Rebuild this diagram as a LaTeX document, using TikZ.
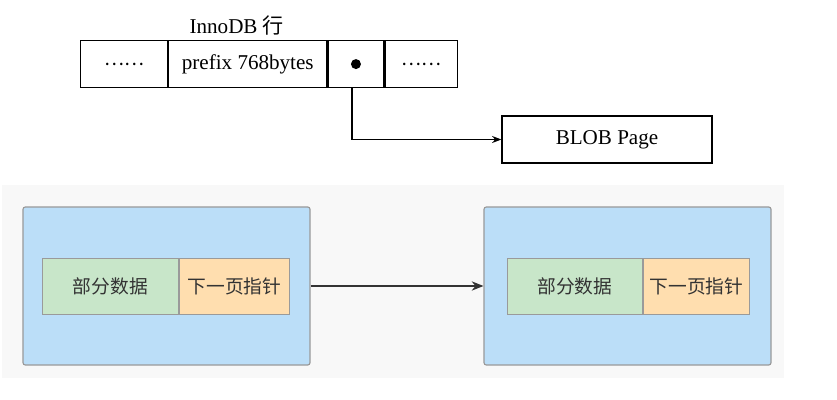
\documentclass[tikz,border=0pt]{standalone}
\usepackage{fontspec}
\setmainfont{Liberation Serif}
\newfontfamily\cjk{Noto Sans CJK SC}
\usetikzlibrary{arrows.meta,positioning}
\definecolor{Pane}{HTML}{F8F8F8}
\definecolor{PageBlue}{HTML}{BBDEF8}
\definecolor{DataGreen}{HTML}{C8E6C9}
\definecolor{PtrOrange}{HTML}{FFDEAF}
\definecolor{Edge}{HTML}{9A9A9A}
\definecolor{Txt}{HTML}{333333}

\begin{document}
\begin{tikzpicture}[x=0.03cm, y=-0.03cm, node distance=0pt,
    every node/.style={font=\fontsize{18}{20}\selectfont, inner sep=0pt},
    cell/.style={draw, line width=1pt, minimum height=1.41cm},
    page/.style={draw=Edge, fill=PageBlue, line width=1pt, rounded corners=2pt,
      minimum width=8.61cm, minimum height=4.74cm},
    part/.style={draw=Edge, fill=DataGreen, line width=0.8pt, minimum height=1.68cm,
      text=Txt, font=\cjk\fontsize{16}{18}\selectfont},
    ptr/.style={part, fill=PtrOrange}]
  \useasboundingbox (0,0) rectangle (837,400);
  % InnoDB row
  \node[cell, minimum width=2.61cm, anchor=north west] (c1) at (80,40) {\cjk\fontsize{16}{18}\selectfont ……};
  \node[cell, minimum width=4.74cm, right=of c1] (c2) {prefix 768bytes};
  \node[cell, minimum width=1.68cm, right=of c2] (c3) {};
  \node[cell, minimum width=2.16cm, right=of c3] (c4) {\cjk\fontsize{16}{18}\selectfont ……};
  \fill (c3.center) circle (5);
  \node[above=4pt of c2.north, xshift=-0.33cm] (row) {InnoDB {\cjk 行}};
  \node[cell, minimum width=6.3cm] (blob) at (607,139.5) {BLOB Page};
  \draw[line width=1pt, -{Stealth[length=8pt, width=6pt]}] ([xshift=-0.12cm]c3.south) |- (blob.west);
  % pages chain
  \fill[Pane] (2,185) rectangle (784,378);
  \node[page] (p1) at (166.5,286) {};
  \node[page] (p2) at (627.5,286) {};
  \node[part, minimum width=4.08cm, anchor=west] (d1) at (42,286) {部分数据};
  \node[ptr, minimum width=3.3cm, right=of d1] (n1) {下一页指针};
  \node[part, minimum width=4.05cm, anchor=west] (d2) at (507,286) {部分数据};
  \node[ptr, minimum width=3.18cm, right=of d2] (n2) {下一页指针};
  \draw[line width=1.2pt, draw=Txt, -{Stealth[length=10pt, width=8pt]}] (p1) -- (p2);
\end{tikzpicture}
\end{document}
